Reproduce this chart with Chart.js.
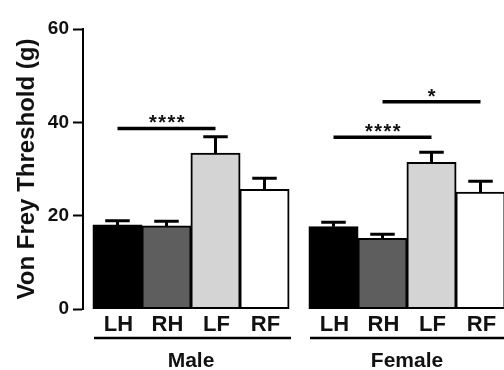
<!DOCTYPE html>
<html lang="en">
  <head>
    <meta charset="UTF-8" />
    <title>Von Frey Threshold</title>
    <script src="https://cdn.jsdelivr.net/npm/chart.js"></script>
    <style>
      html, body { margin: 0; padding: 0; background: #fff; overflow: hidden; }
      canvas { display: block; }
    </style>
  </head>
  <body>
    <canvas id="vonFrey" width="515" height="370"></canvas>

    <script>
      // Daten
      const sexes = ["Male", "Female"];
      const limbs = ["LH", "RH", "LF", "RF"];
      const lh = [18.0, 17.6];
      const rh = [17.8, 15.1];
      const lf = [33.4, 31.4];
      const rf = [25.6, 25.0];
      const lhErr = [0.9, 1.0];
      const rhErr = [1.0, 0.9];
      const lfErr = [3.5, 2.2];
      const rfErr = [2.4, 2.4];
      const yTicks = [0, 20, 40, 60];

      // Signifikanz: Gruppe, von Balken, bis Balken, Hoehe, Text
      const sigGroup = [0, 1, 1];
      const sigFrom = [0, 0, 1];
      const sigTo = [2, 2, 3];
      const sigY = [38.7, 36.8, 44.4];
      const sigText = ["****", "****", "*"];

      const fontFamily = "'Liberation Sans', Arial, sans-serif";
      const colors = ["#000000", "#5e5e5e", "#d4d4d4", "#ffffff"];
      const values = [lh, rh, lf, rf];
      const errors = [lhErr, rhErr, lfErr, rfErr];

      // Fehlerbalken, Signifikanzlinien, Beschriftungen
      const extrasPlugin = {
        id: "extras",
        afterDatasetsDraw(chart) {
          const ctx = chart.ctx;
          const y = chart.scales.y;
          const area = chart.chartArea;
          ctx.save();
          ctx.strokeStyle = "#000";
          ctx.fillStyle = "#111";

          // Fehlerbalken (nur nach oben)
          values.forEach((vals, d) => {
            const meta = chart.getDatasetMeta(d);
            meta.data.forEach((bar, i) => {
              const top = y.getPixelForValue(vals[i]);
              const end = y.getPixelForValue(vals[i] + errors[d][i]);
              const half = bar.width / 4;
              ctx.lineWidth = 3;
              ctx.beginPath();
              ctx.moveTo(bar.x, top);
              ctx.lineTo(bar.x, end);
              ctx.moveTo(bar.x - half, end);
              ctx.lineTo(bar.x + half, end);
              ctx.stroke();
            });
          });

          // Signifikanz
          sigText.forEach((txt, k) => {
            const g = sigGroup[k];
            const x1 = chart.getDatasetMeta(sigFrom[k]).data[g].x;
            const x2 = chart.getDatasetMeta(sigTo[k]).data[g].x;
            const py = y.getPixelForValue(sigY[k]);
            ctx.lineWidth = 3.5;
            ctx.beginPath();
            ctx.moveTo(x1, py);
            ctx.lineTo(x2, py);
            ctx.stroke();
            ctx.font = "bold 20px " + fontFamily;
            ctx.letterSpacing = "1.5px";
            ctx.textAlign = "center";
            ctx.textBaseline = "alphabetic";
            ctx.fillText(txt, (x1 + x2) / 2 + 1, py + 1);
            ctx.letterSpacing = "0px";
          });

          // Extremitaeten-Beschriftung und Gruppenlinien
          ctx.font = "bold 22px " + fontFamily;
          ctx.textAlign = "center";
          ctx.textBaseline = "alphabetic";
          limbs.forEach((name, d) => {
            chart.getDatasetMeta(d).data.forEach((bar) => {
              ctx.fillText(name, bar.x + 1, area.bottom + 22);
            });
          });
          sexes.forEach((s, i) => {
            const first = chart.getDatasetMeta(0).data[i];
            const last = chart.getDatasetMeta(limbs.length - 1).data[i];
            ctx.lineWidth = 2.5;
            ctx.beginPath();
            ctx.moveTo(first.x - first.width / 2 + 1, area.bottom + 29);
            ctx.lineTo(last.x + last.width / 2 + 2, area.bottom + 29);
            ctx.stroke();
          });
          ctx.restore();
        },
      };

      const ctx1 = document.getElementById("vonFrey").getContext("2d");
      const vonFreyChart = new Chart(ctx1, {
        type: "bar",
        data: {
          labels: sexes,
          datasets: limbs.map((name, d) => ({
            label: name,
            data: values[d],
            backgroundColor: colors[d],
            borderColor: "#000",
            borderWidth: 2,
            borderSkipped: false,
            inflateAmount: 0.5,
            barPercentage: 1,
            categoryPercentage: 196 / 216,
          })),
        },
        options: {
          responsive: false,
          animation: false,
          layout: { padding: { top: 29, right: 0, bottom: 0, left: 0 } },
          plugins: {
            legend: { display: false },
            tooltip: { enabled: false },
          },
          scales: {
            x: {
              grid: { display: false, drawTicks: false },
              border: { display: false },
              ticks: {
                padding: 40,
                color: "#111",
                font: { family: fontFamily, size: 21, weight: "bold" },
              },
              afterFit(scale) {
                scale.height = 61;
              },
            },
            y: {
              min: 0,
              max: 60,
              afterBuildTicks(scale) {
                scale.ticks = yTicks.map((v) => ({ value: v }));
              },
              border: { display: true, color: "#000", width: 2 },
              grid: {
                drawOnChartArea: false,
                drawTicks: true,
                tickLength: 10,
                tickWidth: 2,
                tickColor: "#000",
              },
              ticks: {
                padding: 4,
                color: "#111",
                font: { family: fontFamily, size: 19, weight: "bold" },
              },
              title: {
                display: true,
                text: "Von Frey Threshold (g)",
                color: "#111",
                padding: { top: 13, bottom: 0 },
                font: { family: fontFamily, size: 24, weight: "bold" },
              },
              afterFit(scale) {
                scale.width = 83;
              },
            },
          },
        },
        plugins: [extrasPlugin],
      });
    </script>
  </body>
</html>
